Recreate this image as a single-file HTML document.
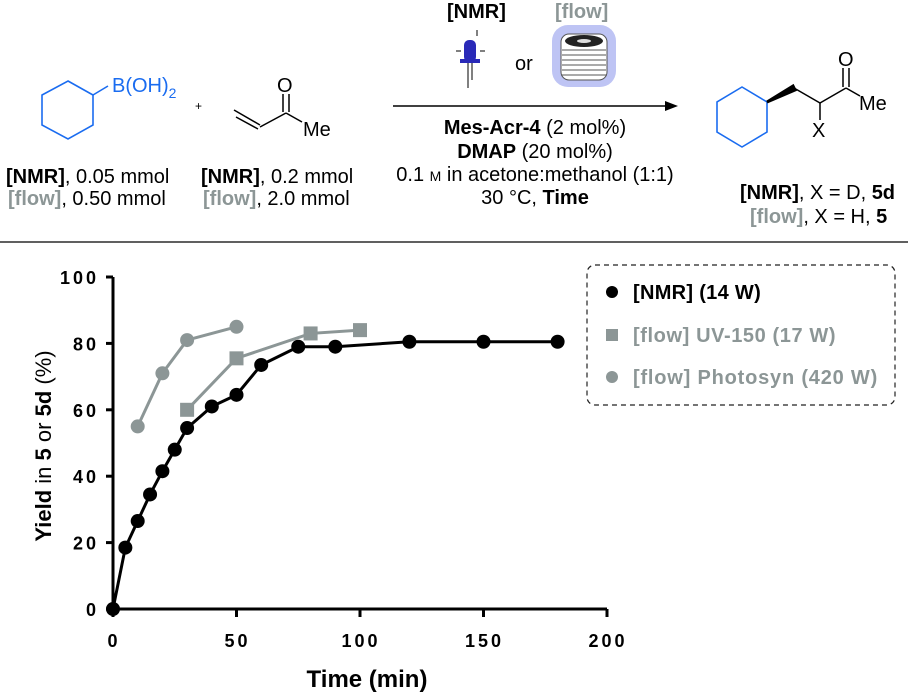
<!DOCTYPE html>
<html><head><meta charset="utf-8"><style>
body{margin:0;background:#fff}
svg{display:block;font-family:"Liberation Sans",Arial,sans-serif}
</style></head><body>
<svg id="fig" width="908" height="695" viewBox="0 0 908 695">
<g font-size="20">
  <g stroke="#1a6cf0" stroke-width="1.6" fill="none">
    <polygon points="68,81 93,95 93,125 68,139 42,125 42,95"/>
    <line x1="93" y1="95" x2="108" y2="86"/>
  </g>
  <text x="112" y="92" fill="#1a6cf0" font-size="20">B(OH)<tspan font-size="14" dy="6">2</tspan></text>
  <text x="195" y="110" font-size="12">+</text>
  <g stroke="#000" stroke-width="1.5" fill="none">
    <line x1="234" y1="110" x2="260" y2="125"/><line x1="236" y1="117" x2="258" y2="129"/>
    <line x1="260" y1="127" x2="286" y2="113"/>
    <line x1="286" y1="113" x2="302" y2="122"/>
    <line x1="283" y1="112" x2="283" y2="94"/><line x1="289" y1="112" x2="289" y2="94"/>
  </g>
  <text x="277" y="92">O</text>
  <text x="303" y="136">Me</text>
  <text x="6" y="183"><tspan font-weight="bold">[NMR]</tspan>, 0.05 mmol</text>
  <text x="8" y="205"><tspan font-weight="bold" fill="#8c9696">[flow]</tspan>, 0.50 mmol</text>
  <text x="201" y="183"><tspan font-weight="bold">[NMR]</tspan>, 0.2 mmol</text>
  <text x="203" y="205"><tspan font-weight="bold" fill="#8c9696">[flow]</tspan>, 2.0 mmol</text>
  <text x="447" y="18" font-weight="bold">[NMR]</text>
  <text x="555" y="18" font-weight="bold" fill="#8c9696">[flow]</text>
  <g>
    <rect x="464" y="40" width="12" height="22" rx="5" fill="#2a2ab8"/>
    <rect x="460" y="59" width="20" height="4" fill="#2a2ab8"/>
    <line x1="468" y1="63" x2="468" y2="88" stroke="#000"/><line x1="472" y1="63" x2="472" y2="80" stroke="#000"/>
    <line x1="477" y1="30" x2="477" y2="36" stroke="#000"/><line x1="456" y1="51" x2="461" y2="51" stroke="#000"/><line x1="480" y1="51" x2="485" y2="51" stroke="#000"/>
  </g>
  <text x="515" y="70">or</text>
  <g>
    <rect x="552" y="25" width="64" height="62" rx="16" fill="#a8b0f0" opacity="0.75"/>
    <rect x="561" y="34" width="46" height="46" rx="8" fill="#fff" stroke="#555"/>
    <ellipse cx="584" cy="41" rx="19" ry="6" fill="#222"/>
    <ellipse cx="584" cy="41" rx="7" ry="2" fill="#ddd"/>
    <g stroke="#555" stroke-width="1"><line x1="562" y1="50" x2="606" y2="50"/><line x1="562" y1="55" x2="606" y2="55"/><line x1="562" y1="60" x2="606" y2="60"/><line x1="562" y1="65" x2="606" y2="65"/><line x1="562" y1="70" x2="606" y2="70"/><line x1="562" y1="75" x2="606" y2="75"/></g>
  </g>
  <g>
    <line x1="393" y1="106" x2="668" y2="106" stroke="#000" stroke-width="1.5"/>
    <polygon points="678,106 665,101 665,111" fill="#000"/>
  </g>
  <g text-anchor="middle">
    <text x="535" y="134"><tspan font-weight="bold">Mes-Acr-4</tspan> (2 mol%)</text>
    <text x="535" y="158"><tspan font-weight="bold">DMAP</tspan> (20 mol%)</text>
    <text x="535" y="181">0.1 <tspan font-size="14">M</tspan> in acetone:methanol (1:1)</text>
    <text x="535" y="204">30 °C, <tspan font-weight="bold">Time</tspan></text>
  </g>
  <g fill="none" stroke-width="1.6">
    <polygon points="742,87 767,102 767,132 742,147 717,132 717,102" stroke="#1a6cf0"/>
    <polygon points="767,102 793,86 795,90" stroke="#000" fill="#000" stroke-width="3"/>
    <g stroke="#000" stroke-width="1.5">
      <line x1="794" y1="88" x2="820" y2="103"/><line x1="820" y1="103" x2="846" y2="88"/>
      <line x1="846" y1="88" x2="860" y2="96"/><line x1="820" y1="103" x2="820" y2="120"/>
      <line x1="843" y1="87" x2="843" y2="68"/><line x1="849" y1="87" x2="849" y2="68"/>
    </g>
  </g>
  <text x="838" y="66">O</text>
  <text x="859" y="110">Me</text>
  <text x="812" y="137">X</text>
  <text x="740" y="199"><tspan font-weight="bold">[NMR]</tspan>, X = D, <tspan font-weight="bold">5d</tspan></text>
  <text x="750" y="223"><tspan font-weight="bold" fill="#8c9696">[flow]</tspan>, X = H, <tspan font-weight="bold">5</tspan></text>
</g>
<line x1="0" y1="242" x2="908" y2="242" stroke="#000" stroke-width="1.2"/>
<g id="chart"></g>
<g>
  <rect x="587" y="265" width="308" height="140" rx="8" fill="none" stroke="#222" stroke-width="1.2" stroke-dasharray="5,4"/>
  <g><circle cx="612" cy="292" r="6" fill="#000"/><text x="633" y="299" font-weight="bold" font-size="20" letter-spacing="0.3">[NMR] (14 W)</text></g>
  <g><rect x="606" y="329" width="12" height="12" fill="#8c9696"/><text x="633" y="342" font-weight="bold" font-size="20" fill="#8c9696" letter-spacing="0.6">[flow] UV-150 (17 W)</text></g>
  <g><circle cx="612" cy="377" r="6" fill="#8c9696"/><text x="633" y="384" font-weight="bold" font-size="20" fill="#8c9696" letter-spacing="0.8">[flow] Photosyn (420 W)</text></g>
</g>
</svg>
<script>
const nmrX=[0,5,10,15,20,25,30,40,50,60,75,90,120,150,180];
const nmrY=[0,18.5,26.5,34.5,41.5,48,54.5,61,64.5,73.5,79,79,80.5,80.5,80.5];
const uvX=[30,50,80,100];
const uvY=[60,75.5,83,84];
const phX=[10,20,30,50];
const phY=[55,71,81,85];
const xTicks=[0,50,100,150,200];
const yTicks=[0,20,40,60,80,100];
const NS="http://www.w3.org/2000/svg";
const g=document.getElementById('chart');
const sx=v=>113+v*(607-113)/200, sy=v=>609-v*(609-277)/100;
function mk(t,a,p){const e=document.createElementNS(NS,t);for(const k in a)e.setAttribute(k,a[k]);(p||g).appendChild(e);return e;}
const ax=mk('path',{d:`M${sx(0)},${sy(100)}V${sy(0)}H${sx(200)}`,fill:'none',stroke:'#000','stroke-width':3});


yTicks.forEach(v=>{mk('line',{x1:sx(0)-7,x2:sx(0),y1:sy(v),y2:sy(v),stroke:'#000','stroke-width':3});
 const t=mk('text',{x:sx(0)-14,y:sy(v)+7,'text-anchor':'end','font-size':18,'font-weight':'bold','letter-spacing':3});t.textContent=v;
 
 });
xTicks.forEach(v=>{mk('line',{x1:sx(v),x2:sx(v),y1:sy(0),y2:sy(0)+8,stroke:'#000','stroke-width':3});
 const t=mk('text',{x:sx(v)+1,y:647,'text-anchor':'middle','font-size':18,'font-weight':'bold','letter-spacing':3});t.textContent=v;
 
 });
const xt=mk('text',{x:367,y:687,'text-anchor':'middle','font-size':24,'font-weight':'bold'});xt.textContent='Time (min)';


const yt=mk('text',{transform:'translate(51,446) rotate(-90)','text-anchor':'middle','font-size':22});
yt.innerHTML='<tspan font-weight="bold">Yield</tspan> in <tspan font-weight="bold">5</tspan> or <tspan font-weight="bold">5d</tspan> (%)';


function series(xs,ys,col,shape,name){
 const s=mk('g',{});
 
 
 mk('polyline',{points:xs.map((x,i)=>sx(x)+','+sy(ys[i])).join(' '),fill:'none',stroke:col,'stroke-width':3},s);
 xs.forEach((x,i)=>{const m=shape==='sq'?mk('rect',{x:sx(x)-7,y:sy(ys[i])-7,width:14,height:14,fill:col},s):mk('circle',{cx:sx(x),cy:sy(ys[i]),r:7,fill:col},s);
  
  });
}
series(phX,phY,'#8c9696','c','photosyn-series');
series(uvX,uvY,'#8c9696','sq','uv150-series');
series(nmrX,nmrY,'#000','c','nmr-series');
</script>
</body></html>
